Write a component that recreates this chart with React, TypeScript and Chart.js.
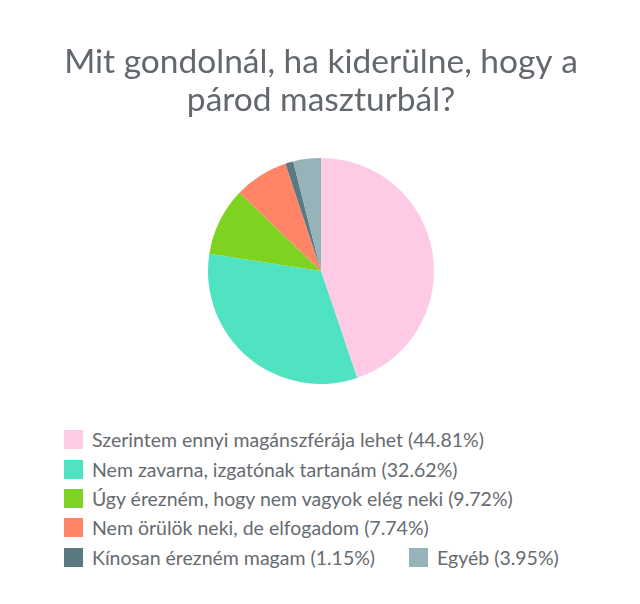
import { useEffect, useRef } from "react";
import { Chart, registerables } from "chart.js";
Chart.register(...registerables);

const titleLines = ["Mit gondolnál, ha kiderülne, hogy a", "párod maszturbál?"];
const labels = [
  "Szerintem ennyi magánszférája lehet",
  "Nem zavarna, izgatónak tartanám",
  "Úgy érezném, hogy nem vagyok elég neki",
  "Nem örülök neki, de elfogadom",
  "Kínosan érezném magam",
  "Egyéb",
];
const values = [44.81, 32.62, 9.72, 7.74, 1.15, 3.95];
const colors = ["#ffcae6", "#50e3c2", "#7ed321", "#ff8566", "#5a7980", "#95b3b9"];

const font = "Lato, 'Noto Sans', sans-serif";

export default function App() {
  const canvasRef = useRef<HTMLCanvasElement>(null);

  useEffect(() => {
    document.body.style.margin = "0";
    if (!canvasRef.current) return;
    const ctx = canvasRef.current.getContext("2d");
    if (!ctx) return;

    const chart = new Chart(ctx, {
      type: "pie",
      data: {
        labels,
        datasets: [{ data: values, backgroundColor: colors, borderWidth: 0 }],
      },
      options: {
        responsive: false,
        animation: false,
        layout: { padding: { left: 2 } },
        plugins: {
          legend: { display: false },
          tooltip: { enabled: false },
          title: {
            display: true,
            text: titleLines,
            color: "#62686e",
            font: { family: font, size: 33.5, weight: "normal", lineHeight: 1.14 },
            padding: { top: 43, bottom: 38.6 },
          },
        },
      },
    });

    return () => chart.destroy();
  }, []);

  return (
    <div style={{ position: "relative", width: 640, height: 604, background: "#fff" }}>
      <canvas ref={canvasRef} width={640} height={384} style={{ display: "block" }} />
      <div
        style={{
          position: "absolute",
          left: 64,
          top: 425.3,
          width: 510,
          display: "flex",
          flexWrap: "wrap",
          columnGap: 34,
          fontFamily: font,
          fontSize: 19.5,
          color: "#666b70",
        }}
      >
        {labels.map((l, i) => (
          <div key={l} style={{ display: "flex", alignItems: "center", height: 29.3, whiteSpace: "nowrap" }}>
            <span style={{ width: 19, height: 19, background: colors[i], marginRight: 9, display: "inline-block" }} />
            <span>
              {l} ({values[i].toFixed(2)}%)
            </span>
          </div>
        ))}
      </div>
    </div>
  );
}
